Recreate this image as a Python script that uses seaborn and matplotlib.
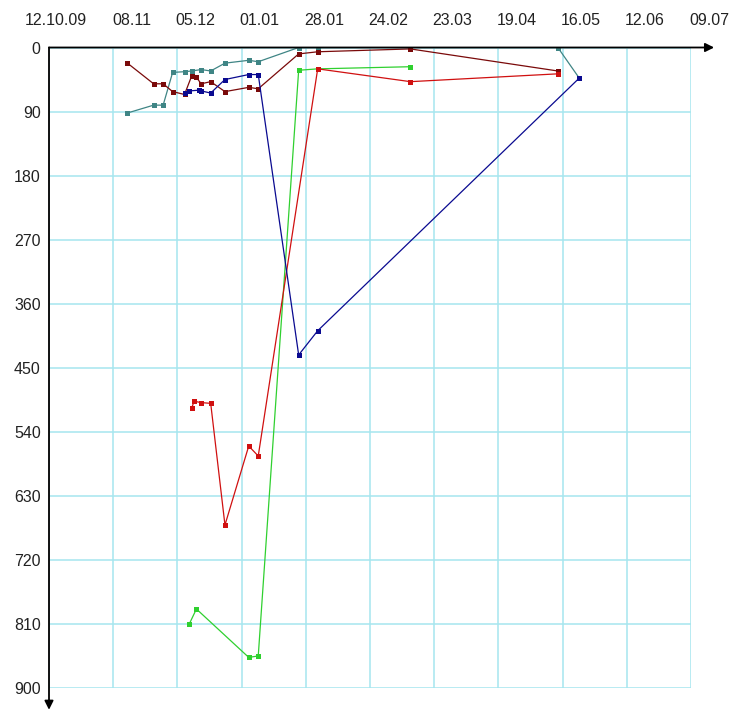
import matplotlib
matplotlib.use("Agg")
import matplotlib.pyplot as plt
import matplotlib.transforms as mtransforms
import seaborn as sns
import pandas as pd

# ---- data -------------------------------------------------------------
tick_dates = ["2009-10-12", "2009-11-08", "2009-12-05", "2010-01-01", "2010-01-28",
              "2010-02-24", "2010-03-23", "2010-04-19", "2010-05-16", "2010-06-12",
              "2010-07-09"]
tick_labels = ["12.10.09", "08.11", "05.12", "01.01", "28.01", "24.02",
               "23.03", "19.04", "16.05", "12.06", "09.07"]
y_ticks = [0, 90, 180, 270, 360, 450, 540, 630, 720, 810, 900]

teal_dates = ["2009-11-14", "2009-11-25", "2009-11-29", "2009-12-03", "2009-12-08",
              "2009-12-11", "2009-12-15", "2009-12-19", "2009-12-25", "2010-01-04",
              "2010-01-08", "2010-01-25", "2010-02-02", "2010-03-13", "2010-05-14",
              "2010-05-23"]
teal_values = [92, 81, 81, 35, 34, 33, 31, 33, 22, 18, 20, 0, 0, 0, 0, 43]

maroon_dates = ["2009-11-14", "2009-11-25", "2009-11-29", "2009-12-03", "2009-12-08",
                "2009-12-11", "2009-12-13", "2009-12-15", "2009-12-19", "2009-12-25",
                "2010-01-04", "2010-01-08", "2010-01-25", "2010-02-02", "2010-03-13",
                "2010-05-14"]
maroon_values = [22, 51, 51, 62, 66, 40, 42, 51, 48, 62, 56, 58, 9, 6, 2, 33]

green_dates = ["2009-12-10", "2009-12-13", "2010-01-04", "2010-01-08", "2010-01-25",
               "2010-02-02", "2010-03-13"]
green_values = [810, 789, 857, 855, 32, 30, 27]

red_dates = ["2009-12-11", "2009-12-12", "2009-12-15", "2009-12-19", "2009-12-25",
             "2010-01-04", "2010-01-08", "2010-02-02", "2010-03-13", "2010-05-14"]
red_values = [507, 497, 499, 500, 671, 560, 574, 30, 48, 37]

blue_dates = ["2009-12-08", "2009-12-10", "2009-12-14", "2009-12-15", "2009-12-19",
              "2009-12-25", "2010-01-04", "2010-01-08", "2010-01-25", "2010-02-02",
              "2010-05-23"]
blue_values = [64, 61, 60, 61, 64, 45, 38, 38, 432, 398, 43]

series = [
    (teal_dates, teal_values, "#3f8585"),
    (maroon_dates, maroon_values, "#7a0a0a"),
    (green_dates, green_values, "#2fd02f"),
    (red_dates, red_values, "#d01010"),
    (blue_dates, blue_values, "#0a0a90"),
]

# ---- figure -----------------------------------------------------------
sns.set_style("white")
plt.rcParams["font.family"] = ["Liberation Sans", "DejaVu Sans"]

fig = plt.figure(figsize=(7.33, 7.13), dpi=100)
ax = fig.add_axes([49 / 733, 25 / 713, 642 / 733, 640.5 / 713])

for dates, values, color in series:
    sns.lineplot(x=pd.to_datetime(dates), y=values, ax=ax, color=color,
                 marker="s", markersize=3.6, markeredgewidth=0,
                 linewidth=0.9, estimator=None, sort=False, zorder=3)

xt = pd.to_datetime(tick_dates)
ax.set_xlim(xt[0], xt[-1])
ax.set_ylim(900, 0)
ax.set_xticks(xt)
ax.set_xticklabels(tick_labels)
ax.set_yticks(y_ticks)
ax.set_yticklabels([str(v) for v in y_ticks])
ax.set_xlabel("")
ax.set_ylabel("")

ax.xaxis.tick_top()
ax.tick_params(axis="both", length=0, labelsize=11.5, colors="#222222")
ax.tick_params(axis="x", pad=14)
ax.tick_params(axis="y", pad=6)

offset = mtransforms.ScaledTranslation(38 / 100, 0, fig.dpi_scale_trans)
for lab in ax.get_xticklabels():
    lab.set_horizontalalignment("right")
    lab.set_transform(lab.get_transform() + offset)

ax.grid(True, color="#a6e6ef", linewidth=1.1)
ax.set_axisbelow(True)
for sp in ax.spines.values():
    sp.set_visible(False)

arrow = dict(arrowstyle="-|>", color="black", lw=1.3, mutation_scale=13,
             shrinkA=0, shrinkB=0)
ax.annotate("", xy=(1.036, 1.0), xytext=(0.0, 1.0), xycoords="axes fraction",
            textcoords="axes fraction", arrowprops=arrow, annotation_clip=False)
ax.annotate("", xy=(0.0, -0.034), xytext=(0.0, 1.0), xycoords="axes fraction",
            textcoords="axes fraction", arrowprops=arrow, annotation_clip=False)

fig.savefig("out.png", dpi=100, facecolor="white")
